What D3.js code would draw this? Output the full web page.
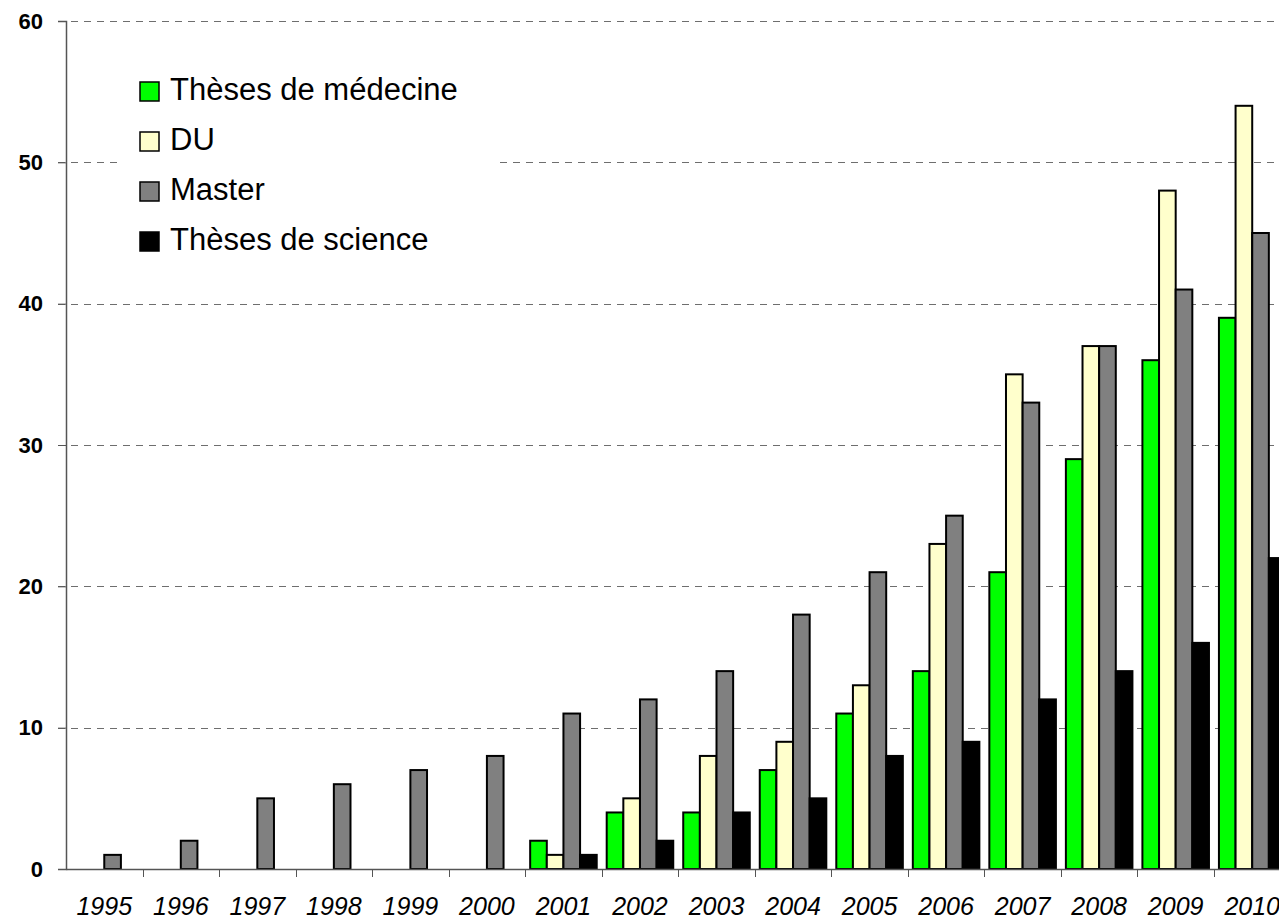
<!DOCTYPE html>
<html>
<head>
<meta charset="utf-8">
<script src="https://cdn.jsdelivr.net/npm/d3@7"></script>
<style>
  body { margin: 0; background: #fff; }
  svg { display: block; font-family: Arial, "Liberation Sans", sans-serif; }
</style>
</head>
<body>
<div id="chart"></div>
<script>
// data
var years = ["1995","1996","1997","1998","1999","2000","2001","2002","2003","2004","2005","2006","2007","2008","2009","2010"];
var seriesNames = ["Thèses de médecine", "DU", "Master", "Thèses de science"];
var medecine = [null, null, null, null, null, null, 2, 4, 4, 7, 11, 14, 21, 29, 36, 39];
var du       = [null, null, null, null, null, null, 1, 5, 8, 9, 13, 23, 35, 37, 48, 54];
var master   = [1, 2, 5, 6, 7, 8, 11, 12, 14, 18, 21, 25, 33, 37, 41, 45];
var science  = [null, null, null, null, null, null, 1, 2, 4, 5, 8, 9, 12, 14, 16, 22];
var yTicks = [0, 10, 20, 30, 40, 50, 60];
var colors = ["#00ff00", "#ffffcc", "#808080", "#000000"];

var allSeries = [medecine, du, master, science];

var width = 1279, height = 921;
var plotLeft = 66, plotTop = 21, plotBottom = 869;
var catW = 76.53;
var plotRight = plotLeft + catW * years.length;

var svg = d3.select("#chart").append("svg")
	.attr("width", width)
	.attr("height", height);

var x = d3.scaleBand().domain(years).range([plotLeft, plotRight]).paddingInner(0).paddingOuter(0);
var x1 = d3.scaleBand().domain(d3.range(4)).range([0, x.bandwidth()]).paddingOuter(0.3).paddingInner(0);
var y = d3.scaleLinear().domain([0, 60]).range([plotBottom, plotTop]);

// gridlines
svg.append("g").selectAll("line")
	.data(yTicks.filter(function(d){ return d > 0; }))
	.enter().append("line")
	.attr("x1", plotLeft - 8)
	.attr("x2", width)
	.attr("y1", function(d){ return Math.round(y(d)) + 0.5; })
	.attr("y2", function(d){ return Math.round(y(d)) + 0.5; })
	.attr("stroke", "#6e6e6e")
	.attr("stroke-width", 1)
	.attr("stroke-dasharray", "7,6");

// legend background (hides the grid behind it)
svg.append("rect")
	.attr("x", 122).attr("y", 62)
	.attr("width", 373).attr("height", 205)
	.attr("fill", "#fff");

// bars
var rows = [];
years.forEach(function(yr, i) {
	allSeries.forEach(function(s, k) {
		if (s[i] != null) rows.push({ year: yr, k: k, v: s[i] });
	});
});

svg.append("g").selectAll("rect")
	.data(rows)
	.enter().append("rect")
	.attr("x", function(d){ return x(d.year) + x1(d.k); })
	.attr("y", function(d){ return y(d.v); })
	.attr("width", x1.bandwidth())
	.attr("height", function(d){ return y(0) - y(d.v); })
	.attr("fill", function(d){ return colors[d.k]; })
	.attr("stroke", "#000")
	.attr("stroke-width", 2);

// y axis
var yAxis = svg.append("g")
	.attr("transform", "translate(" + plotLeft + ",0)")
	.call(d3.axisLeft(y).tickValues(yTicks).tickSize(8).tickPadding(15));
yAxis.select(".domain").attr("stroke", "#555").attr("stroke-width", 1.5);
yAxis.selectAll(".tick line").attr("stroke", "#555");
yAxis.selectAll("text")
	.attr("font-size", "22px")
	.attr("font-weight", "bold")
	.attr("font-family", "Arial, 'Liberation Sans', sans-serif")
	.attr("fill", "#000");

// x axis
var xAxis = svg.append("g")
	.attr("transform", "translate(0," + plotBottom + ")")
	.call(d3.axisBottom(x).tickSize(0).tickPadding(28));
xAxis.select(".domain").attr("stroke", "#555").attr("stroke-width", 1.5);
xAxis.selectAll("text")
	.attr("font-size", "25px")
	.attr("font-style", "italic")
	.attr("font-family", "Arial, 'Liberation Sans', sans-serif")
	.attr("fill", "#000");

// category separator ticks
svg.append("g").selectAll("line")
	.data(years.slice(1))
	.enter().append("line")
	.attr("x1", function(d){ return Math.round(x(d)) + 0.5; })
	.attr("x2", function(d){ return Math.round(x(d)) + 0.5; })
	.attr("y1", plotBottom)
	.attr("y2", plotBottom + 8)
	.attr("stroke", "#555");

// legend
var legend = svg.append("g").selectAll("g")
	.data(seriesNames)
	.enter().append("g")
	.attr("transform", function(d, i){ return "translate(140," + (82 + i * 50) + ")"; });

legend.append("rect")
	.attr("width", 19).attr("height", 19)
	.attr("fill", function(d, i){ return colors[i]; })
	.attr("stroke", "#000")
	.attr("stroke-width", 1.5);

legend.append("text")
	.attr("x", 30)
	.attr("y", 7)
	.attr("dy", "0.36em")
	.attr("font-size", "31px")
	.attr("fill", "#000")
	.text(function(d){ return d; });
</script>
</body>
</html>
